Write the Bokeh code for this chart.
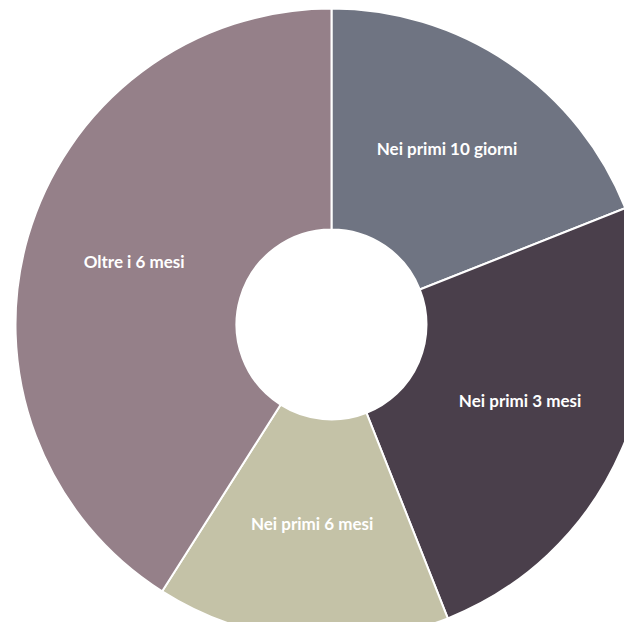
import math
from bokeh.plotting import figure
from bokeh.models import ColumnDataSource, Range1d
from bokeh.core.properties import value
from bokeh.embed import file_html
from bokeh.resources import INLINE

categories = ["Nei primi 10 giorni", "Nei primi 3 mesi", "Nei primi 6 mesi", "Oltre i 6 mesi"]
values = [19, 25, 15, 41]
colors = ["#6f7482", "#4a3f4b", "#c4c2a7", "#958089"]

total = sum(values)
starts, ends, lx, ly = [], [], [], []
R_OUT, R_IN = 316, 95
cum = 0
for v in values:
    a0 = math.pi / 2 - 2 * math.pi * cum / total
    cum += v
    a1 = math.pi / 2 - 2 * math.pi * cum / total
    starts.append(a0)
    ends.append(a1)
    mid = (a0 + a1) / 2
    r = (R_OUT + R_IN) / 2
    lx.append(r * math.cos(mid))
    ly.append(r * math.sin(mid))

src = ColumnDataSource(dict(cat=categories, val=values, color=colors,
                            start=starts, end=ends, lx=lx, ly=ly))

W, H = 624, 622
cx, cy = 331, 324
p = figure(width=W, height=H, output_backend="svg", toolbar_location=None,
           x_range=Range1d(-cx, W - cx), y_range=Range1d(-(H - cy), cy),
           min_border=0)
p.axis.visible = False
p.grid.visible = False
p.outline_line_color = None
p.background_fill_color = "white"

p.annular_wedge(x=0, y=0, inner_radius=R_IN, outer_radius=R_OUT,
                start_angle="start", end_angle="end", direction="clock",
                fill_color="color", line_color="white", line_width=2, source=src)

p.text(x="lx", y="ly", text="cat", source=src, text_color="white",
       text_font=value("Lato"), text_font_style="bold", text_font_size="17px",
       text_align="center", text_baseline="middle", y_offset=-6)

open("out.html", "w").write(file_html(p, INLINE))
